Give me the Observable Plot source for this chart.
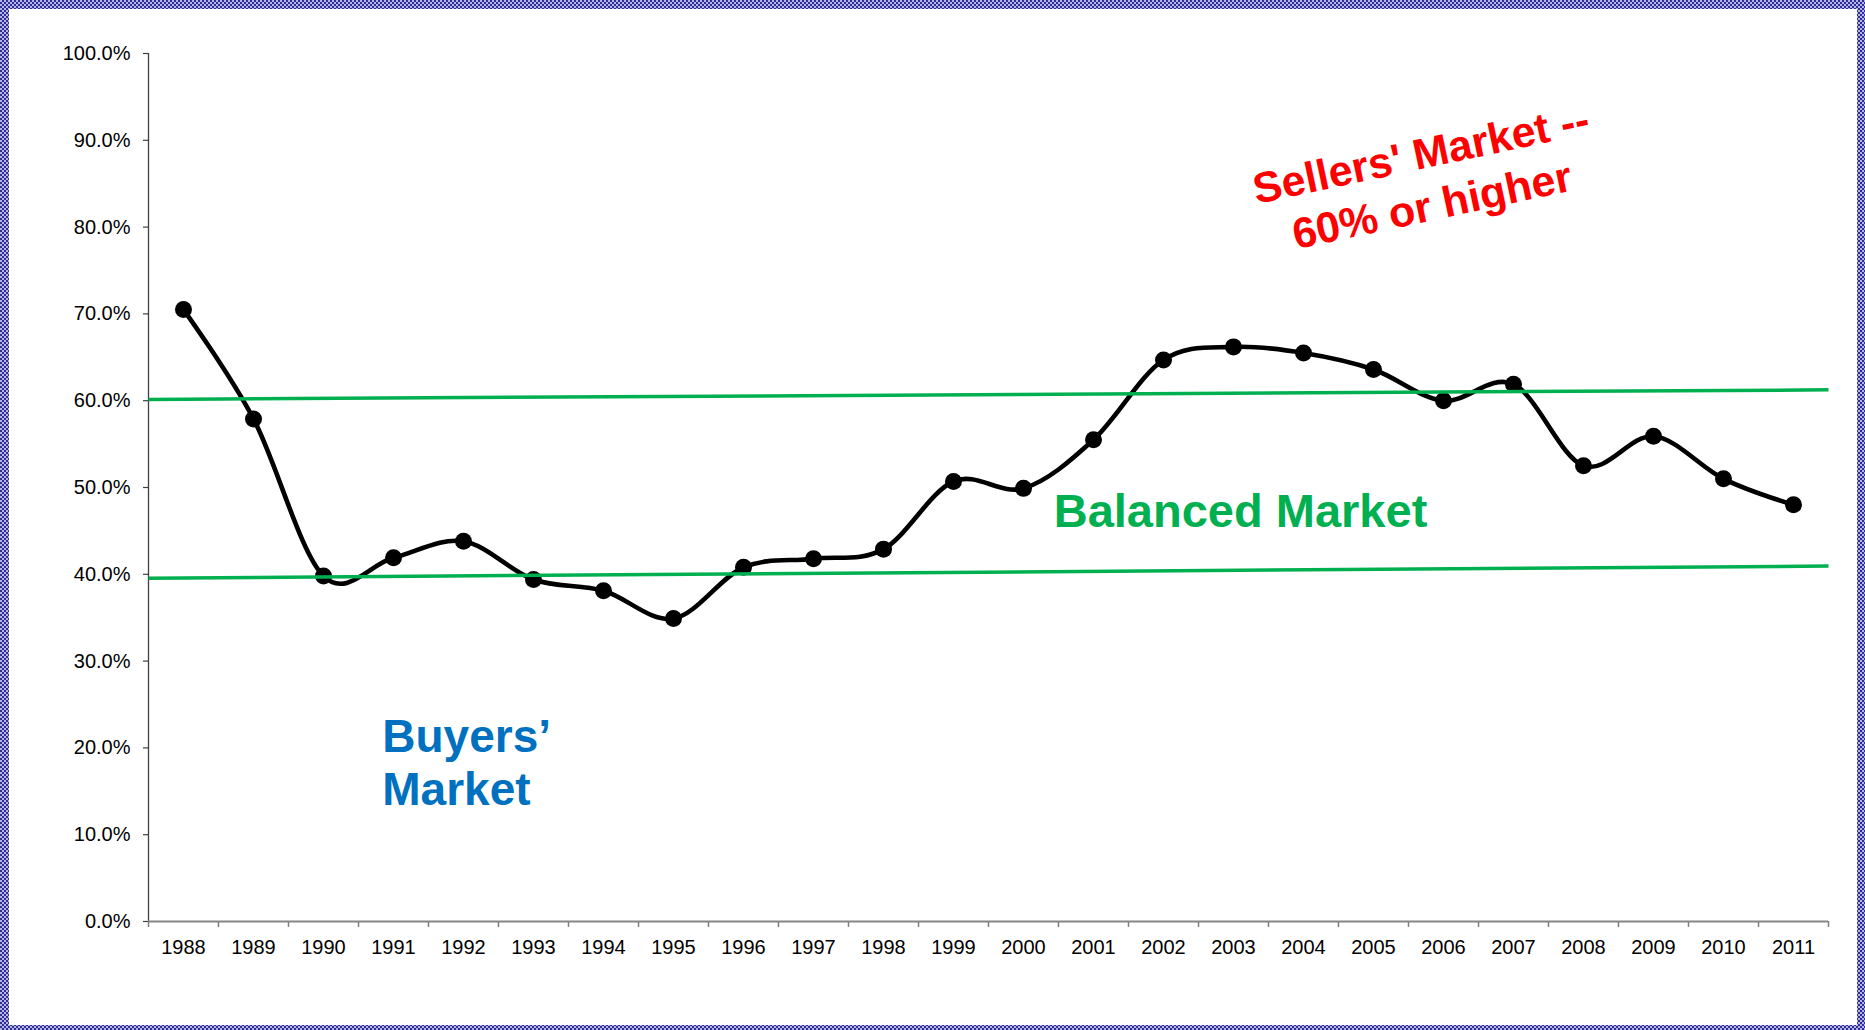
<!DOCTYPE html>
<html>
<head>
<meta charset="utf-8">
<script src="https://cdn.jsdelivr.net/npm/d3@7"></script>
<script src="https://cdn.jsdelivr.net/npm/@observablehq/plot@0.6"></script>
<style>
  html, body { margin: 0; padding: 0; background: #fff; }
  #wrap { position: relative; width: 1865px; height: 1030px; overflow: hidden; }
  #frame { position: absolute; left: 0; top: 0; right: 0; bottom: 0;
    background: repeating-conic-gradient(#2f2f96 0 25%, #b4b4e4 0 50%) 0 0 / 4px 4px; }
  #inner { position: absolute; left: 9px; top: 9px; right: 8px; bottom: 5px; background: #fff; }
  #chart { position: absolute; left: 0; top: 0; }
</style>
</head>
<body>
<div id="wrap">
  <div id="frame"></div>
  <div id="inner"></div>
  <div id="chart"></div>
</div>
<script>
// ---- Data ----
const years = [1988, 1989, 1990, 1991, 1992, 1993, 1994, 1995, 1996, 1997, 1998, 1999,
               2000, 2001, 2002, 2003, 2004, 2005, 2006, 2007, 2008, 2009, 2010, 2011];
const shares = [70.5, 57.9, 39.8, 41.9, 43.8, 39.4, 38.1, 34.9, 40.8, 41.8, 42.9, 50.7,
                49.9, 55.5, 64.7, 66.2, 65.5, 63.6, 60.0, 61.9, 52.5, 55.9, 51.0, 48.0];
const yTicks = [0, 10, 20, 30, 40, 50, 60, 70, 80, 90, 100];
// threshold lines (drawn across the full category range)
const lineSpan = [1987.5, 2011.5];
const sellersThreshold = [60.15, 61.25];
const buyersThreshold = [39.55, 40.95];
// annotations
const labelTexts = ["Sellers' Market --\n60% or higher", "Balanced Market", "Buyers’\nMarket"];
const labelX = [2005.75, 2003.1, 1990.84];
const labelY = [85.7, 47.2, 23.8];

// ---- Build tables ----
const series = years.map((y, i) => ({year: y, value: shares[i]}));
const boundaries = d3.range(lineSpan[0], lineSpan[1] + 0.001, 1);
const thresholds = [sellersThreshold, buyersThreshold].map(t => ({
  x1: lineSpan[0], x2: lineSpan[1], y1: t[0], y2: t[1]
}));
const font = "'Liberation Sans', Arial, Helvetica, sans-serif";

const chart = Plot.plot({
  width: 1865,
  height: 1030,
  marginTop: 53,
  marginBottom: 109,
  marginLeft: 148,
  marginRight: 37,
  style: {background: "transparent", fontFamily: font, overflow: "visible", maxWidth: "none"},
  x: {type: "linear", domain: lineSpan},
  y: {domain: [0, 100]},
  marks: [
    // y axis
    Plot.axisY({ticks: yTicks, tickFormat: d => d.toFixed(1) + "%", tickSize: 5, tickPadding: 13,
      fontSize: 20, fill: "#000", stroke: "#404040", strokeWidth: 1.2}),
    Plot.ruleX([lineSpan[0]], {y1: yTicks[0], y2: yTicks[yTicks.length - 1], stroke: "#404040", strokeWidth: 1.3}),
    // x axis: tick marks at category boundaries, labels at centers
    Plot.axisX({ticks: boundaries, tickFormat: () => "", tickSize: 6, stroke: "#7f7f7f", strokeWidth: 1.5}),
    Plot.axisX({ticks: years, tickFormat: d => String(d), tickSize: 0, tickPadding: 18,
      fontSize: 20, fill: "#000"}),
    Plot.ruleY([0], {x1: lineSpan[0], x2: lineSpan[1], stroke: "#868686", strokeWidth: 2}),
    // data
    Plot.line(series, {x: "year", y: "value", curve: "cardinal", stroke: "#000", strokeWidth: 4.6}),
    Plot.dot(series, {x: "year", y: "value", r: 8.5, fill: "#000"}),
    // threshold lines
    Plot.link(thresholds, {x1: "x1", x2: "x2", y1: "y1", y2: "y2", stroke: "#00b050", strokeWidth: 3.5}),
    // annotations
    Plot.text([0], {x: labelX[0], y: labelY[0], text: () => labelTexts[0], rotate: -12,
      textAnchor: "middle", lineAnchor: "middle", lineHeight: 1.22,
      fontSize: 43, fontWeight: "bold", fill: "#ff0000", fontFamily: font}),
    Plot.text([0], {x: labelX[1], y: labelY[1], text: () => labelTexts[1],
      textAnchor: "middle", lineAnchor: "middle",
      fontSize: 47, fontWeight: "bold", fill: "#00b050", fontFamily: font}),
    Plot.text([0], {x: labelX[2], y: labelY[2], text: () => labelTexts[2],
      textAnchor: "start", lineAnchor: "top", lineHeight: 1.15,
      fontSize: 46, fontWeight: "bold", fill: "#0070c0", fontFamily: font})
  ]
});
document.getElementById("chart").appendChild(chart);
</script>
</body>
</html>
